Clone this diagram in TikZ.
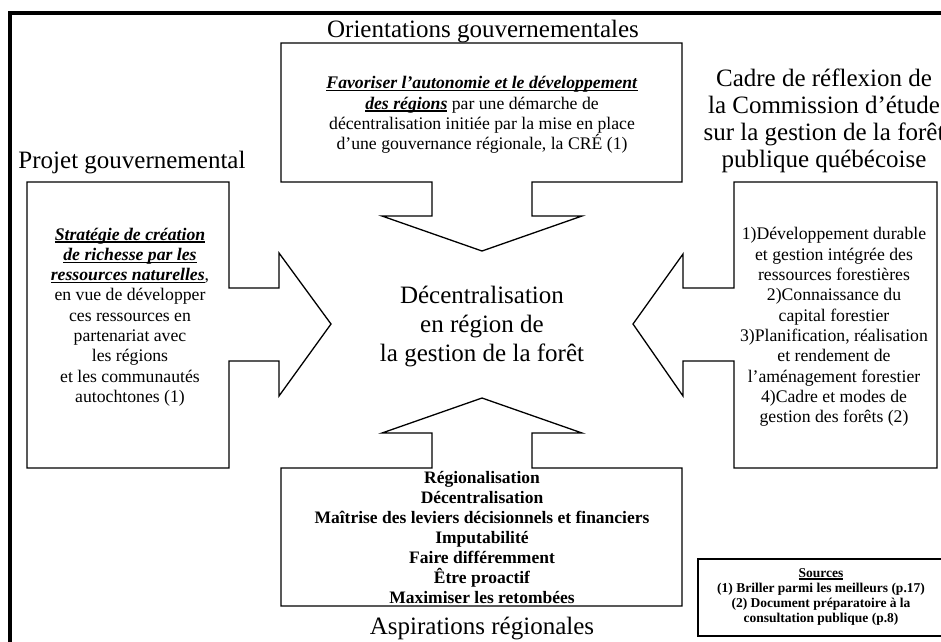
\documentclass[tikz,border=0pt]{standalone}
\usepackage{fontspec}
\setmainfont{Liberation Serif}
\newcommand\myul[1]{\setbox0\hbox{#1}\rlap{\rule[-2.6pt]{\wd0}{1.2pt}}\box0\relax}
\newcommand\bisub[1]{\myul{\textbf{\textit{#1}}}}
\begin{document}
\begin{tikzpicture}[x=1pt,y=-1pt,
  calloutline/.style={draw=black,line width=1.3pt,line join=miter},
  titletext/.style={font=\fontsize{25}{27}\selectfont,align=center,inner sep=0pt},
  centretext/.style={font=\fontsize{25}{29}\selectfont,align=center,inner sep=0pt},
  bodytext/.style={font=\fontsize{17.7}{20.3}\selectfont,align=center,inner sep=0pt},
  boldtext/.style={font=\fontsize{17.5}{20}\selectfont\bfseries,align=center,inner sep=0pt},
  srctext/.style={font=\fontsize{13.5}{15.3}\selectfont\bfseries,align=center,inner sep=0pt}]
\useasboundingbox (0,0) rectangle (941,641);
% frame
\draw[line width=4pt,line join=miter] (10,650) -- (10,13) -- (950,13);
% top callout
\draw[calloutline] (281,43) -- (682,43) -- (682,182) -- (532,182) -- (532,216) -- (582,216)
  -- (482,251) -- (382,216) -- (432,216) -- (432,182) -- (281,182) -- cycle;
% left callout
\draw[calloutline] (27,182) -- (229,182) -- (229,288) -- (279,288) -- (279,253) -- (331,324)
  -- (279,396) -- (279,361) -- (229,361) -- (229,468) -- (27,468) -- cycle;
% right callout
\draw[calloutline] (937,182) -- (734,182) -- (734,288) -- (683,288) -- (683,254) -- (633,324)
  -- (683,396) -- (683,361) -- (734,361) -- (734,468) -- (937,468) -- cycle;
% bottom callout
\draw[calloutline] (281,606) -- (682,606) -- (682,468) -- (532,468) -- (532,433) -- (582,433)
  -- (482,398) -- (382,433) -- (432,433) -- (432,468) -- (281,468) -- cycle;
% sources box
\draw[line width=1.5pt] (698,559) rectangle (950,636);

% titles
\node[titletext] (orient) at (483,32) {Orientations gouvernementales};
\node[titletext] (projet) at (132,163) {Projet gouvernemental};
\node[titletext] (cadre) at (824,121) {Cadre de réflexion de\\la Commission d’étude\\sur la gestion de la forêt\\publique québécoise};
\node[titletext] (aspi) at (482,628) {Aspirations régionales};
\node[centretext] (centre) at (482,326) {Décentralisation\\en région de\\la gestion de la forêt};

% box texts
\node[bodytext] (toptext) at (482,115) {\bisub{Favoriser l’autonomie et le développement}\\\bisub{des régions} par une démarche de\\décentralisation initiée par la mise en place\\d’une gouvernance régionale, la CRÉ (1)};
\node[bodytext] (lefttext) at (130,317) {\bisub{Stratégie de création}\\\bisub{de richesse par les}\\\bisub{ressources naturelles},\\en vue de développer\\ces ressources en\\partenariat avec\\les régions\\et les communautés\\autochtones (1)};
\node[bodytext] (righttext) at (834,327) {1)Développement durable\\et gestion intégrée des\\ressources forestières\\2)Connaissance du\\capital forestier\\3)Planification, réalisation\\et rendement de\\l’aménagement forestier\\4)Cadre et modes de\\gestion des forêts (2)};
\node[boldtext] (bottomtext) at (482,537) {Régionalisation\\Décentralisation\\Maîtrise des leviers décisionnels et financiers\\Imputabilité\\Faire différemment\\Être proactif\\Maximiser les retombées};
\node[srctext] (sources) at (821,597) {\myul{Sources}\\(1) Briller parmi les meilleurs (p.17)\\(2) Document préparatoire à la\\consultation publique (p.8)};
\end{tikzpicture}
\end{document}
